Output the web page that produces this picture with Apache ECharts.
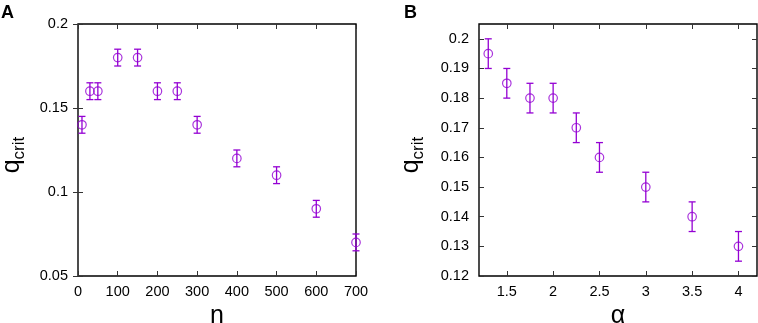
<!DOCTYPE html>
<html><head><meta charset="utf-8">
<script src="https://cdn.jsdelivr.net/npm/echarts@6/dist/echarts.min.js"></script>
<style>html,body{margin:0;padding:0;background:#fff}#c{width:758px;height:323px}</style>
</head><body><div id="c"></div>
<script>
// Panel A
const nValues = [10, 30, 50, 100, 150, 200, 250, 300, 400, 500, 600, 700];
const qA = [0.14, 0.16, 0.16, 0.18, 0.18, 0.16, 0.16, 0.14, 0.12, 0.11, 0.09, 0.07];
const errA = [0.005, 0.005, 0.005, 0.005, 0.005, 0.005, 0.005, 0.005, 0.005, 0.005, 0.005, 0.005];
const xTicksA = [0, 100, 200, 300, 400, 500, 600, 700];
const yTicksA = [0.05, 0.1, 0.15, 0.2];
// Panel B
const alphaValues = [1.3, 1.5, 1.75, 2, 2.25, 2.5, 3, 3.5, 4];
const qB = [0.195, 0.185, 0.18, 0.18, 0.17, 0.16, 0.15, 0.14, 0.13];
const errB = [0.005, 0.005, 0.005, 0.005, 0.005, 0.005, 0.005, 0.005, 0.005];
const xTicksB = [1.5, 2, 2.5, 3, 3.5, 4];
const yTicksB = [0.12, 0.13, 0.14, 0.15, 0.16, 0.17, 0.18, 0.19, 0.2];

const PURPLE = '#9400D3';
const FONT = 'Liberation Sans';
const chart = echarts.init(document.getElementById('c'));

function mkX(gridIndex, min, max, ticks, name, position) {
  const main = position === 'bottom';
  return {
    type: 'value', gridIndex, min, max, position,
    name: main ? name : '', nameLocation: 'middle', nameGap: 27,
    nameTextStyle: {fontFamily: FONT, fontSize: 25, color: '#000'},
    axisLine: {show: false},
    axisTick: {show: true, inside: true, length: 5, customValues: ticks, lineStyle: {color: '#333', width: 1}},
    axisLabel: {show: main, customValues: ticks, fontFamily: FONT, fontSize: 14.5, color: '#000', margin: 8},
    splitLine: {show: false}
  };
}
function mkY(gridIndex, min, max, ticks, position, gap) {
  const main = position === 'left';
  return {
    type: 'value', gridIndex, min, max, position,
    name: main ? '{q|q}{s|crit}' : '', nameLocation: 'middle', nameGap: gap,
    nameTextStyle: {fontFamily: FONT, color: '#000', padding: [0, 10, 0, 0],
      rich: {q: {fontFamily: FONT, fontSize: 25, color: '#000'},
             s: {fontFamily: FONT, fontSize: 17, color: '#000', padding: [14, 0, 0, 0]}}},
    axisLine: {show: false},
    axisTick: {show: true, inside: true, length: 5, customValues: ticks, lineStyle: {color: '#333', width: 1}},
    axisLabel: {show: main, customValues: ticks, fontFamily: FONT, fontSize: 14.5, color: '#000', margin: 10},
    splitLine: {show: false}
  };
}

function errSeries(xAxisIndex, yAxisIndex, xs, ys, es) {
  return {
    type: 'custom', xAxisIndex, yAxisIndex, clip: false, z: 3,
    data: xs.map((x, i) => [x, ys[i], es[i]]),
    renderItem: function (params, api) {
      const x = api.value(0), y = api.value(1), e = api.value(2);
      const lo = api.coord([x, y - e]);
      const hi = api.coord([x, y + e]);
      const w = 3.5;
      const st = {stroke: PURPLE, lineWidth: 1.3};
      return {type: 'group', children: [
        {type: 'line', shape: {x1: lo[0], y1: lo[1], x2: hi[0], y2: hi[1]}, style: st},
        {type: 'line', shape: {x1: lo[0] - w, y1: lo[1], x2: lo[0] + w, y2: lo[1]}, style: st},
        {type: 'line', shape: {x1: hi[0] - w, y1: hi[1], x2: hi[0] + w, y2: hi[1]}, style: st}
      ]};
    }
  };
}
function ptSeries(xAxisIndex, yAxisIndex, xs, ys) {
  return {
    type: 'scatter', xAxisIndex, yAxisIndex, clip: false, z: 4,
    symbol: 'circle', symbolSize: 8.5,
    itemStyle: {color: 'rgba(0,0,0,0)', borderColor: PURPLE, borderWidth: 1.2},
    data: xs.map((x, i) => [x, ys[i]])
  };
}

const grids = [
  {left: 78, top: 24, width: 278, height: 252, show: true, borderColor: '#000', borderWidth: 1.4,
   backgroundColor: 'transparent', containLabel: false, outerBoundsMode: 'none'},
  {left: 479, top: 24, width: 278, height: 252, show: true, borderColor: '#000', borderWidth: 1.4,
   backgroundColor: 'transparent', containLabel: false, outerBoundsMode: 'none'}
];

chart.setOption({
  animation: false,
  backgroundColor: '#fff',
  grid: grids,
  xAxis: [
    mkX(0, 0, 700, xTicksA, 'n', 'bottom'),
    mkX(0, 0, 700, xTicksA, '', 'top'),
    mkX(1, 1.2, 4.2, xTicksB, 'α', 'bottom'),
    mkX(1, 1.2, 4.2, xTicksB, '', 'top')
  ],
  yAxis: [
    mkY(0, 0.05, 0.2, yTicksA, 'left', 50),
    mkY(0, 0.05, 0.2, yTicksA, 'right', 10),
    mkY(1, 0.12, 0.205, yTicksB, 'left', 52),
    mkY(1, 0.12, 0.205, yTicksB, 'right', 10)
  ],
  graphic: [
    {type: 'text', left: 1, top: 4, style: {text: 'A', fontFamily: FONT, fontSize: 18, fontWeight: 'bold', fill: '#000'}},
    {type: 'text', left: 404, top: 4, style: {text: 'B', fontFamily: FONT, fontSize: 18, fontWeight: 'bold', fill: '#000'}}
  ],
  series: [
    errSeries(0, 0, nValues, qA, errA),
    ptSeries(0, 0, nValues, qA),
    errSeries(2, 2, alphaValues, qB, errB),
    ptSeries(2, 2, alphaValues, qB)
  ]
});
</script>
</body></html>
